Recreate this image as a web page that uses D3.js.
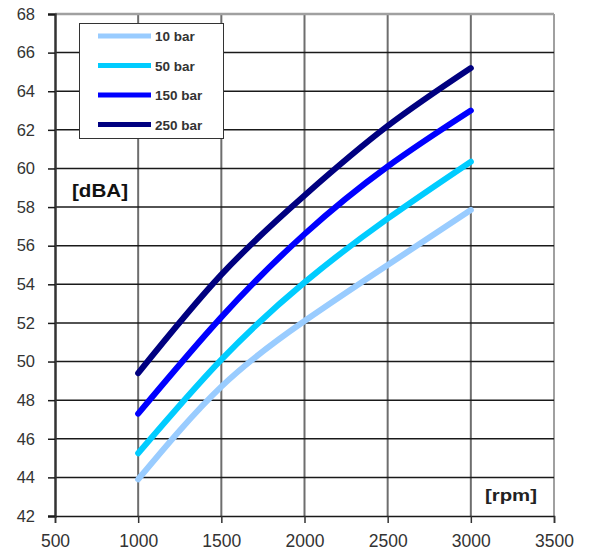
<!DOCTYPE html>
<html>
<head>
    <meta charset="utf-8" />
    <title>Noise vs rpm</title>
    <script src="https://cdn.jsdelivr.net/npm/d3@7"></script>
    <style>
        body { margin: 0; background: #fff; }
        text { font-family: "Liberation Sans", Arial, sans-serif; }
    </style>
</head>
<body>
<script>
    // data
    var rpm = [1000, 1500, 2000, 2500, 3000];
    var seriesNames = ["10 bar", "50 bar", "150 bar", "250 bar"];
    var bar10 = [43.9, 48.7, 52.1, 55.0, 57.85];
    var bar50 = [45.25, 50.1, 54.1, 57.4, 60.35];
    var bar150 = [47.3, 52.3, 56.6, 60.1, 63.0];
    var bar250 = [49.4, 54.5, 58.6, 62.2, 65.2];
    var xTicks = [500, 1000, 1500, 2000, 2500, 3000, 3500];
    var yTicks = [42, 44, 46, 48, 50, 52, 54, 56, 58, 60, 62, 64, 66, 68];
    var colors = ["#99ccff", "#00ccff", "#0000ff", "#000080"];

    var allSeries = [bar10, bar50, bar150, bar250];

    var width = 592, height = 558;
    var plotLeft = 55, plotRight = 554, plotTop = 14, plotBottom = 516;

    var svg = d3.select("body").append("svg")
        .attr("width", width)
        .attr("height", height);

    var x = d3.scaleLinear().domain([500, 3500]).range([plotLeft, plotRight]);
    var y = d3.scaleLinear().domain([42, 68]).range([plotBottom, plotTop]);

    // vertical grid
    svg.append("g").selectAll("line")
        .data(xTicks.slice(1))
        .enter().append("line")
        .attr("x1", d => x(d)).attr("x2", d => x(d))
        .attr("y1", plotTop).attr("y2", plotBottom)
        .attr("stroke", d => d === 3500 ? "#a0a0a0" : "#6e6e6e")
        .attr("stroke-width", 2);

    // horizontal grid
    svg.append("g").selectAll("line")
        .data(yTicks.slice(1))
        .enter().append("line")
        .attr("x1", plotLeft).attr("x2", plotRight)
        .attr("y1", d => y(d)).attr("y2", d => y(d))
        .attr("stroke", d => d === 68 ? "#a0a0a0" : "#1a1a1a")
        .attr("stroke-width", d => d === 68 ? 2.5 : 1.5);

    // axes
    var yAxis = d3.axisLeft(y).tickValues(yTicks).tickSize(7).tickPadding(13);
    var gy = svg.append("g")
        .attr("transform", `translate(${plotLeft},0)`)
        .call(yAxis);
    gy.select(".domain").attr("stroke", "#333").attr("stroke-width", 2.5);
    gy.selectAll(".tick line").attr("stroke", "#1a1a1a").attr("stroke-width", 1.5);
    gy.selectAll("text")
        .attr("font-size", 16.5)
        .attr("fill", "#333")
        .attr("font-family", "Liberation Sans, Arial, sans-serif");

    var xAxis = d3.axisBottom(x).tickValues(xTicks).tickSize(7).tickPadding(12).tickFormat(d3.format("d"));
    var gx = svg.append("g")
        .attr("transform", `translate(0,${plotBottom})`)
        .call(xAxis);
    gx.select(".domain").attr("stroke", "#1a1a1a").attr("stroke-width", 1.5);
    gx.selectAll(".tick line").attr("stroke", "#333").attr("stroke-width", 1.5);
    gx.selectAll("text")
        .attr("font-size", 17.5)
        .attr("fill", "#333")
        .attr("font-family", "Liberation Sans, Arial, sans-serif");

    // series
    var line = d3.line()
        .x((d, i) => x(rpm[i]))
        .y(d => y(d))
        .curve(d3.curveNatural);

    svg.append("g").selectAll("path")
        .data(allSeries)
        .enter().append("path")
        .attr("d", d => line(d))
        .attr("fill", "none")
        .attr("stroke", (d, i) => colors[i])
        .attr("stroke-width", 6)
        .attr("stroke-linecap", "round");

    // axis unit labels
    svg.append("text")
        .attr("x", 72).attr("y", 197)
        .attr("font-size", 18).attr("font-weight", "bold")
        .attr("textLength", 56).attr("lengthAdjust", "spacingAndGlyphs")
        .attr("fill", "#111")
        .text("[dBA]");
    svg.append("text")
        .attr("x", 485).attr("y", 501)
        .attr("font-size", 16).attr("font-weight", "bold")
        .attr("textLength", 52).attr("lengthAdjust", "spacingAndGlyphs")
        .attr("fill", "#222")
        .text("[rpm]");

    // legend
    var lg = svg.append("g");
    lg.append("rect")
        .attr("x", 79.5).attr("y", 23.5)
        .attr("width", 144).attr("height", 115)
        .attr("fill", "#fff")
        .attr("stroke", "#333").attr("stroke-width", 1);
    var items = lg.selectAll("g.item")
        .data(seriesNames)
        .enter().append("g")
        .attr("class", "item")
        .attr("transform", (d, i) => `translate(0,${36 + i * 29.5})`);
    items.append("line")
        .attr("x1", 98).attr("x2", 151)
        .attr("y1", 0).attr("y2", 0)
        .attr("stroke", (d, i) => colors[i])
        .attr("stroke-width", 5);
    items.append("text")
        .attr("x", 155).attr("y", 5)
        .attr("font-size", 13.5).attr("font-weight", "bold")
        .attr("fill", "#333")
        .text(d => d);
</script>
</body>
</html>
